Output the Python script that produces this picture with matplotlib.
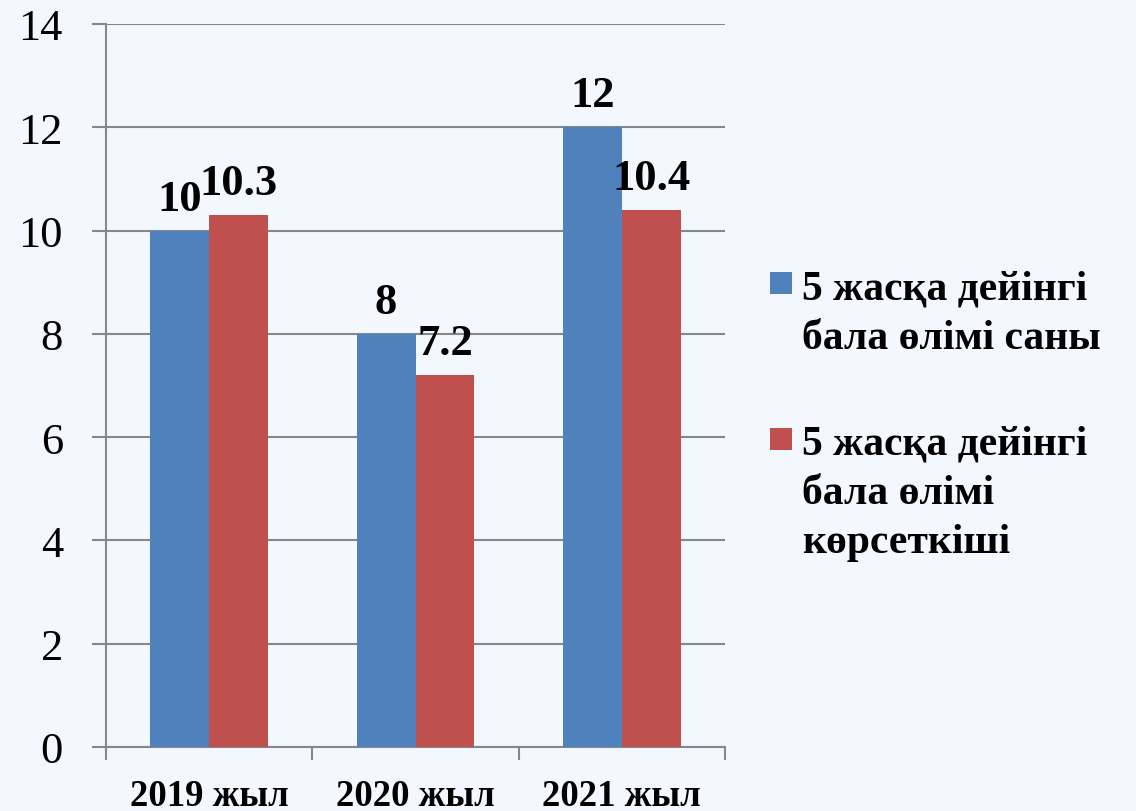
import numpy as np
import matplotlib
matplotlib.use("Agg")
import matplotlib.pyplot as plt
from matplotlib.patches import Rectangle

# chart data
categories = ["2019 жыл", "2020 жыл", "2021 жыл"]
series_names = ["5 жасқа дейінгі\nбала өлімі саны",
                "5 жасқа дейінгі\nбала өлімі\nкөрсеткіші"]
deaths_count = [10, 8, 12]
mortality_rate = [10.3, 7.2, 10.4]
value_labels = [["10", "8", "12"], ["10.3", "7.2", "10.4"]]
y_ticks = [0, 2, 4, 6, 8, 10, 12, 14]

bg = "#F2F8FE"
colors = ["#4F81BD", "#C0504D"]
grid_color = "#878787"

plt.rcParams["font.family"] = ["Liberation Serif", "DejaVu Serif"]

W, H = 1136, 812
fig = plt.figure(figsize=(W / 100, H / 100), dpi=100, facecolor=bg)
ax = fig.add_axes([106 / W, 1 - 748 / H, (725 - 106) / W, (748 - 25) / H])
ax.set_facecolor(bg)

x = np.arange(len(categories))
width = 0.2857
series = [deaths_count, mortality_rate]
for i, vals in enumerate(series):
    pos = x + (i - 0.5) * width
    bars = ax.bar(pos, vals, width, color=colors[i], zorder=3)
    for b, lab in zip(bars, value_labels[i]):
        ax.annotate(lab, (b.get_x() + b.get_width() / 2, b.get_height()),
                    xytext=(0, 15), textcoords="offset points",
                    ha="center", va="baseline", fontsize=32, fontweight="bold")

ax.set_xlim(-0.5, len(categories) - 0.5)
ax.set_ylim(0, 14)
ax.set_yticks(y_ticks)
ax.set_yticklabels([str(t) for t in y_ticks], fontsize=32)
ax.yaxis.grid(True, color=grid_color, linewidth=1.5, zorder=0)
ax.tick_params(axis="y", length=10, width=1.5, color=grid_color, pad=21)

# category labels at centres, tick marks at boundaries
ax.set_xticks(x)
ax.set_xticklabels(categories, fontsize=26.5, fontweight="bold")
ax.tick_params(axis="x", length=0, pad=22)
ax.set_xticks(np.arange(len(categories) + 1) - 0.5, minor=True)
ax.tick_params(axis="x", which="minor", length=9, width=1.5, color=grid_color)

for s in ["top", "right"]:
    ax.spines[s].set_visible(False)
for s in ["left", "bottom"]:
    ax.spines[s].set_color(grid_color)
    ax.spines[s].set_linewidth(1.5)

# legend: square marker beside the first line of each entry
legend_rows = [(295, 300), (451, 455)]  # (marker bottom, first baseline) in px
line_step = 49
for name, col, (mk_bottom, base) in zip(series_names, colors, legend_rows):
    fig.patches.append(Rectangle((770 / W, 1 - mk_bottom / H), 22 / W, 22 / H,
                                 transform=fig.transFigure, facecolor=col,
                                 edgecolor="none"))
    for k, line in enumerate(name.split("\n")):
        fig.text(802 / W, 1 - (base + k * line_step) / H, line, fontsize=30,
                 fontweight="bold", ha="left", va="baseline")

fig.savefig("out.png", dpi=100, facecolor=bg)
